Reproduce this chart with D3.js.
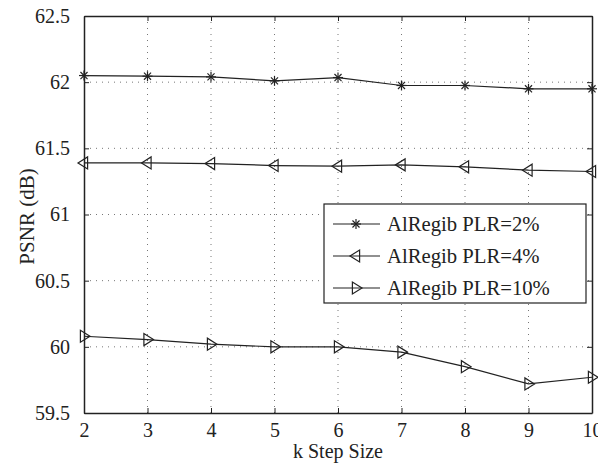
<!DOCTYPE html>
<html>
<head>
<meta charset="utf-8">
<script src="https://cdn.jsdelivr.net/npm/d3@7/dist/d3.min.js"></script>
<style>
  body { margin: 0; background: #fff; }
</style>
</head>
<body>
<div id="chart"></div>
<script>
const steps = [2, 3, 4, 5, 6, 7, 8, 9, 10]
const plr2 = [62.05, 62.045, 62.04, 62.01, 62.035, 61.975, 61.975, 61.95, 61.95]
const plr4 = [61.39, 61.39, 61.385, 61.37, 61.365, 61.375, 61.36, 61.335, 61.325]
const plr10 = [60.08, 60.055, 60.02, 60.0, 60.0, 59.96, 59.85, 59.72, 59.77]
const seriesNames = ['AlRegib PLR=2%', 'AlRegib PLR=4%', 'AlRegib PLR=10%']
const yTicks = [59.5, 60, 60.5, 61, 61.5, 62, 62.5]

const serif = '"Liberation Serif", "Times New Roman", "DejaVu Serif", serif'

const margin = { top: 16, left: 84, right: 6, bottom: 50 }
const width = 598 - margin.left - margin.right
const height = 463 - margin.top - margin.bottom

const svg = d3
  .select('#chart')
  .append('svg')
  .attr('width', 598)
  .attr('height', 463)
  .append('g')
  .attr('transform', 'translate(' + margin.left + ',' + margin.top + ')')

const x = d3.scaleLinear().domain([2, 10]).range([0, width])
const y = d3.scaleLinear().domain([59.5, 62.5]).range([height, 0])

// grid
svg.append('g')
  .selectAll('line')
  .data(steps.slice(1, -1))
  .enter()
  .append('line')
  .attr('x1', d => x(d)).attr('x2', d => x(d))
  .attr('y1', 0).attr('y2', height)
  .attr('stroke', '#777').attr('stroke-dasharray', '1,5')
svg.append('g')
  .selectAll('line')
  .data(yTicks.slice(1, -1))
  .enter()
  .append('line')
  .attr('y1', d => y(d)).attr('y2', d => y(d))
  .attr('x1', 0).attr('x2', width)
  .attr('stroke', '#777').attr('stroke-dasharray', '1,5')

// axes (ticks inside, on all four sides)
const xAxis = d3.axisBottom(x).tickValues(steps).tickSizeInner(-5).tickSizeOuter(0).tickPadding(10)
svg.append('g').attr('class', 'axis').attr('transform', 'translate(0,' + height + ')').call(xAxis)
svg.append('g').attr('class', 'axis').call(d3.axisTop(x).tickValues(steps).tickSizeInner(-5).tickSizeOuter(0).tickFormat(''))
const yAxis = d3.axisLeft(y).tickValues(yTicks).tickSizeInner(-5).tickSizeOuter(0).tickPadding(14).tickFormat(d3.format('~g'))
svg.append('g').attr('class', 'axis').call(yAxis)
svg.append('g').attr('class', 'axis').attr('transform', 'translate(' + width + ',0)')
  .call(d3.axisRight(y).tickValues(yTicks).tickSizeInner(-5).tickSizeOuter(0).tickFormat(''))

svg.selectAll('.axis').attr('font-family', serif).attr('font-size', 20)
svg.selectAll('.axis text').attr('fill', '#222')
svg.selectAll('.axis line').attr('stroke', '#222')
svg.selectAll('.axis path').attr('stroke', '#222').attr('stroke-width', 1.5)

// axis labels
svg.append('text')
  .text('k Step Size')
  .attr('x', width / 2)
  .attr('y', height + 45)
  .attr('text-anchor', 'middle')
  .attr('font-family', serif)
  .attr('font-size', 20)
  .attr('fill', '#222')
svg.append('text')
  .text('PSNR (dB)')
  .attr('transform', 'translate(-50,' + (height / 2 + 2) + ') rotate(-90)')
  .attr('text-anchor', 'middle')
  .attr('font-family', serif)
  .attr('font-size', 21)
  .attr('fill', '#222')

const line = d3.line().x((d, i) => x(steps[i])).y(d => y(d))

function star(g, cx, cy) {
  const r = 5
  for (let a = 0; a < 180; a += 45) {
    const t = a * Math.PI / 180
    g.append('line')
      .attr('x1', cx - r * Math.cos(t)).attr('y1', cy - r * Math.sin(t))
      .attr('x2', cx + r * Math.cos(t)).attr('y2', cy + r * Math.sin(t))
      .attr('stroke', '#222').attr('stroke-width', 1.2)
  }
}
function tri(g, cx, cy, dir) {
  const r = 6
  const pts = dir < 0
    ? [[cx - r, cy], [cx + r * 0.6, cy - r], [cx + r * 0.6, cy + r]]
    : [[cx + r, cy], [cx - r * 0.6, cy - r], [cx - r * 0.6, cy + r]]
  g.append('polygon')
    .attr('points', pts.map(p => p.join(',')).join(' '))
    .attr('fill', 'none').attr('stroke', '#222').attr('stroke-width', 1.2)
}

const all = [plr2, plr4, plr10]
const markers = [
  (g, cx, cy) => star(g, cx, cy),
  (g, cx, cy) => tri(g, cx, cy, -1),
  (g, cx, cy) => tri(g, cx, cy, 1)
]

all.forEach((vals, k) => {
  svg.append('path')
    .datum(vals)
    .attr('d', line)
    .attr('fill', 'none')
    .attr('stroke', '#222')
    .attr('stroke-width', 1.2)
  const g = svg.append('g')
  vals.forEach((v, i) => markers[k](g, x(steps[i]), y(v)))
})

// legend
const lg = svg.append('g').attr('transform', 'translate(240,188)')
lg.append('rect')
  .attr('width', 262).attr('height', 99)
  .attr('fill', '#fff').attr('stroke', '#222').attr('stroke-width', 1.2)
seriesNames.forEach((name, k) => {
  const ly = 20 + k * 32
  lg.append('line').attr('x1', 9).attr('x2', 56).attr('y1', ly).attr('y2', ly)
    .attr('stroke', '#222').attr('stroke-width', 1.2)
  markers[k](lg, 32, ly)
  lg.append('text').text(name).attr('x', 63).attr('y', ly + 7)
    .attr('font-family', serif).attr('font-size', 20.7).attr('fill', '#222')
})
</script>
</body>
</html>
